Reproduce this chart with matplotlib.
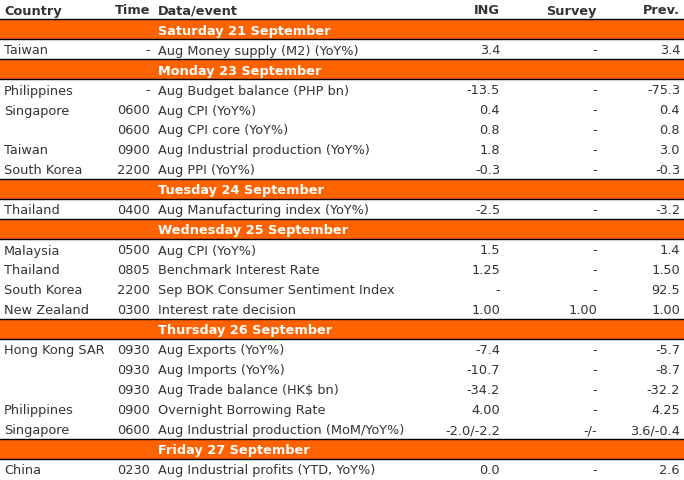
import matplotlib.pyplot as plt
from matplotlib.patches import Rectangle

W, H = 684, 481
ORANGE = '#FF6200'
TXT = '#333333'

headers = ['Country', 'Time', 'Data/event', 'ING', 'Survey', 'Prev.']
# (band title) or (country, time, event, ing, survey, prev)
rows = [
    'Saturday 21 September',
    ('Taiwan', '-', 'Aug Money supply (M2) (YoY%)', '3.4', '-', '3.4'),
    'Monday 23 September',
    ('Philippines', '-', 'Aug Budget balance (PHP bn)', '-13.5', '-', '-75.3'),
    ('Singapore', '0600', 'Aug CPI (YoY%)', '0.4', '-', '0.4'),
    ('', '0600', 'Aug CPI core (YoY%)', '0.8', '-', '0.8'),
    ('Taiwan', '0900', 'Aug Industrial production (YoY%)', '1.8', '-', '3.0'),
    ('South Korea', '2200', 'Aug PPI (YoY%)', '-0.3', '-', '-0.3'),
    'Tuesday 24 September',
    ('Thailand', '0400', 'Aug Manufacturing index (YoY%)', '-2.5', '-', '-3.2'),
    'Wednesday 25 September',
    ('Malaysia', '0500', 'Aug CPI (YoY%)', '1.5', '-', '1.4'),
    ('Thailand', '0805', 'Benchmark Interest Rate', '1.25', '-', '1.50'),
    ('South Korea', '2200', 'Sep BOK Consumer Sentiment Index', '-', '-', '92.5'),
    ('New Zealand', '0300', 'Interest rate decision', '1.00', '1.00', '1.00'),
    'Thursday 26 September',
    ('Hong Kong SAR', '0930', 'Aug Exports (YoY%)', '-7.4', '-', '-5.7'),
    ('', '0930', 'Aug Imports (YoY%)', '-10.7', '-', '-8.7'),
    ('', '0930', 'Aug Trade balance (HK$ bn)', '-34.2', '-', '-32.2'),
    ('Philippines', '0900', 'Overnight Borrowing Rate', '4.00', '-', '4.25'),
    ('Singapore', '0600', 'Aug Industrial production (MoM/YoY%)', '-2.0/-2.2', '-/-', '3.6/-0.4'),
    'Friday 27 September',
    ('China', '0230', 'Aug Industrial profits (YTD, YoY%)', '0.0', '-', '2.6'),
]

col_x = [4, 150, 158, 500, 597, 680]
col_ha = ['left', 'right', 'left', 'right', 'right', 'right']

fig = plt.figure(figsize=(W / 100, H / 100), dpi=100)
ax = fig.add_axes([0, 0, 1, 1])
ax.set_xlim(0, W)
ax.set_ylim(H, 0)
ax.axis('off')

rh = 20
fs = 9.3
for x, ha, h in zip(col_x, col_ha, headers):
    ax.text(x, rh / 2 + 1, h, ha=ha, va='center', fontsize=fs, fontweight='bold', color=TXT)

for i, r in enumerate(rows):
    top = rh * (i + 1)
    yc = top + rh / 2 + 1
    if isinstance(r, str):
        ax.add_patch(Rectangle((0, top), W, rh, color=ORANGE, lw=0))
        ax.plot([0, W], [top, top], color='black', lw=1)
        ax.plot([0, W], [top + rh, top + rh], color='black', lw=1)
        ax.text(158, yc, r, ha='left', va='center', fontsize=fs, fontweight='bold', color='white')
    else:
        for x, ha, v in zip(col_x, col_ha, r):
            ax.text(x, yc, v, ha=ha, va='center', fontsize=fs, color=TXT)

fig.savefig('out.png', dpi=100)
